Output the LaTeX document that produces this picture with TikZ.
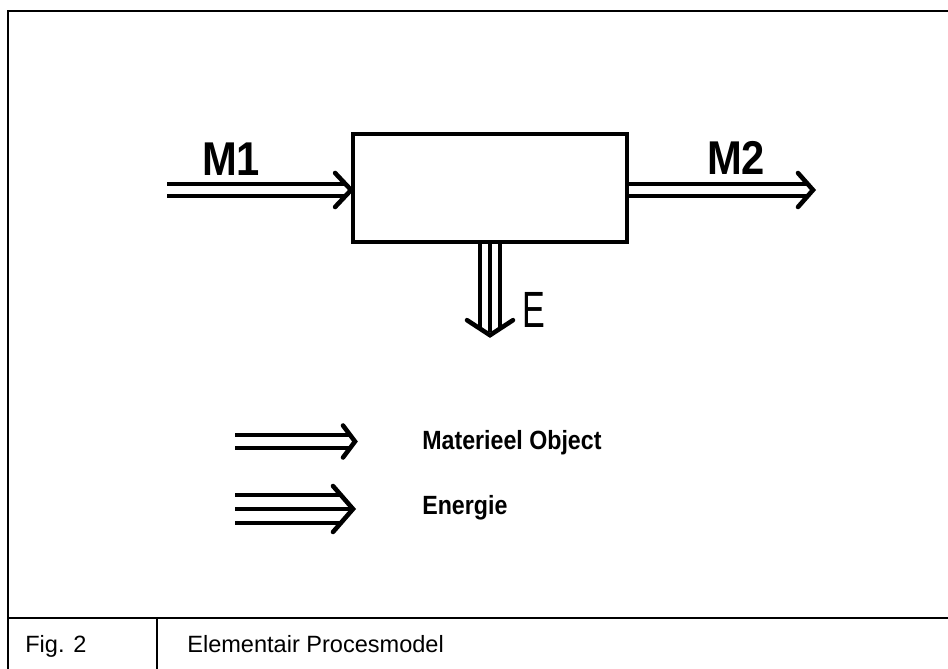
\documentclass[tikz,border=0pt]{standalone}
\usepackage{fontspec}
\setmainfont{Liberation Sans}
\newfontfamily\narrowsans[FakeStretch=0.88]{Liberation Sans}
\newfontfamily\slimsans[FakeStretch=0.67]{Liberation Sans}
\usetikzlibrary{calc}
\tikzset{
  frameline/.style={line width=1.1pt},
  process/.style={draw,line width=2.2pt,minimum width=5.48cm,
    minimum height=2.17cm,inner sep=0pt},
  matline/.style={line width=2.4pt,double,double distance=4.7pt},
  energyline/.style={line width=2.2pt,double,double distance=#1},
  midline/.style={line width=2.2pt},
  barb/.style={line width=2.6pt,line cap=round},
  flowlabel/.style={font=\narrowsans\bfseries\fontsize{27}{30}\selectfont,
    anchor=base,inner sep=0pt},
  legendtext/.style={font=\narrowsans\bfseries\fontsize{15}{18}\selectfont,
    anchor=base west,inner sep=0pt},
  captiontext/.style={font=\fontsize{13.4}{16}\selectfont,
    anchor=base west,inner sep=0pt}
}

\begin{document}
\begin{tikzpicture}[x=0.02cm,y=-0.02cm]
  \useasboundingbox (0,0) rectangle (948,669);
  % frame and caption row
  \draw[frameline] (948,11) -- (8,11) -- (8,669);
  \draw[frameline] (8,618) -- (948,618);
  \draw[frameline] (157,618) -- (157,669);
  % process
  \node[process] (proc) at (490,188) {};
  % input M1
  \coordinate (m1start) at (167,190);
  \coordinate (m1tip) at (m1start -| proc.west);
  \draw[matline] (m1start) -- ($(m1tip)+(-4,0)$);
  \draw[barb] ($(m1tip)+(-16,-17)$) -- (m1tip) -- ($(m1tip)+(-16,17)$);
  \node[flowlabel] (m1) at (231,176) {M1};
  % output M2
  \coordinate (m2start) at (m1start -| proc.east);
  \coordinate (m2tip) at (813,190);
  \draw[matline] (m2start) -- ($(m2tip)+(-5,0)$);
  \draw[barb] ($(m2tip)+(-15,-17)$) -- (m2tip) -- ($(m2tip)+(-15,17)$);
  \node[flowlabel] (m2) at (736,175) {M2};
  % energy E
  \coordinate (etip) at ($(proc.south)+(0,91)$);
  \draw[energyline=9.1pt] (proc.south) -- ($(etip)+(0,-8)$);
  \draw[midline] (proc.south) -- ($(etip)+(0,-3)$);
  \draw[barb] ($(etip)+(-23,-15)$) -- (etip) -- ($(etip)+(23,-15)$);
  \node[font=\slimsans\fontsize{29}{32}\selectfont,anchor=base,inner sep=0pt]
    (elabel) at (534,328) {E};
  % legend
  \coordinate (leg1start) at (235,441.5);
  \coordinate (leg1tip) at (355,441.5);
  \draw[matline] (leg1start) -- ($(leg1tip)+(-5,0)$);
  \draw[barb] ($(leg1tip)+(-12,-16)$) -- (leg1tip) -- ($(leg1tip)+(-12,16)$);
  \node[legendtext] (leg1) at (422,449) {Materieel Object};
  \coordinate (leg2start) at (235,509);
  \coordinate (leg2tip) at (353,509);
  \draw[energyline=13.7pt] (leg2start) -- ($(leg2tip)+(-13,0)$);
  \draw[midline] (leg2start) -- ($(leg2tip)+(-3,0)$);
  \draw[barb] ($(leg2tip)+(-20,-23)$) -- (leg2tip) -- ($(leg2tip)+(-20,23)$);
  \node[legendtext] (leg2) at (422,514) {Energie};
  % caption
  \node[captiontext] (fignum) at (25,652) {Fig. 2};
  \node[captiontext] (figtitle) at (187,652) {Elementair Procesmodel};
\end{tikzpicture}
\end{document}
